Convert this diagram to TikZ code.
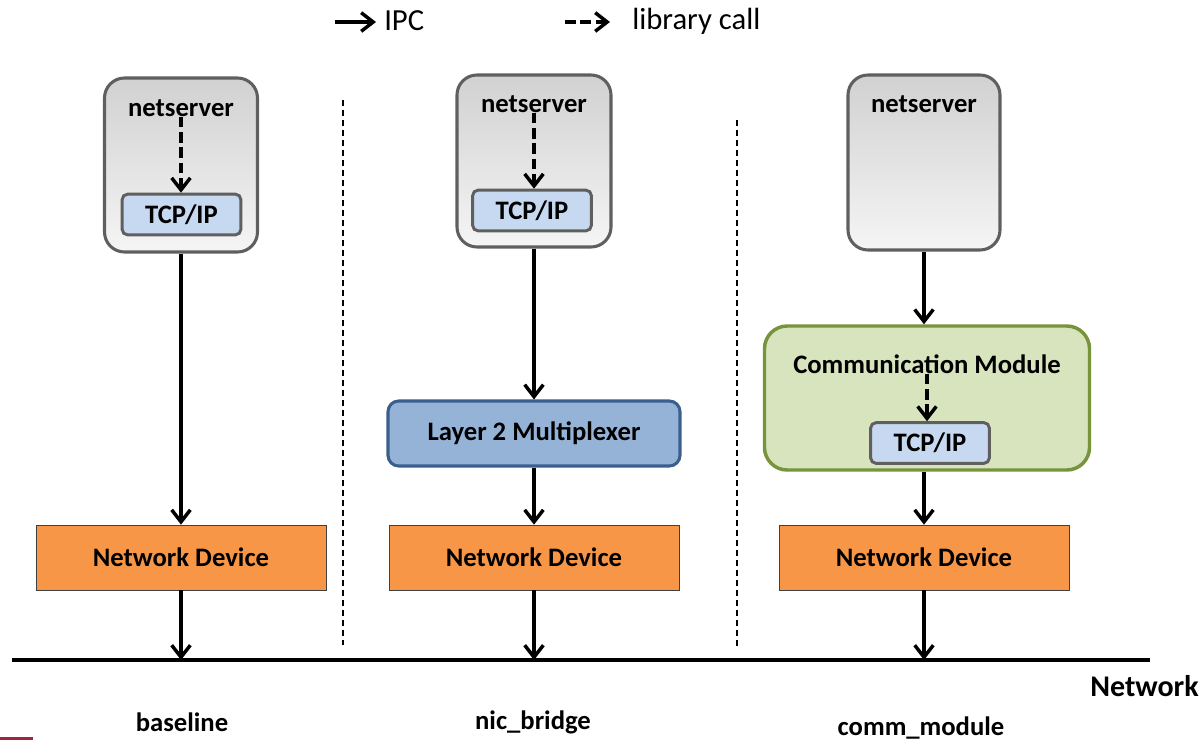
\documentclass[tikz,border=0pt]{standalone}
\usepackage{fontspec}
\setmainfont{Carlito}
\usetikzlibrary{arrows.meta}
\definecolor{srvline}{HTML}{5F5F5F}
\definecolor{tcpfill}{HTML}{C6D9F1}
\definecolor{devfill}{HTML}{F79646}
\definecolor{muxfill}{HTML}{95B3D7}
\definecolor{muxline}{HTML}{3B5F8C}
\definecolor{cmfill}{HTML}{D7E4BD}
\definecolor{cmline}{HTML}{77933C}
\definecolor{markred}{HTML}{A3243B}
\tikzset{
  x=0.75pt, y=-0.75pt,
  txt/.style={font=\fontsize{20}{24}\selectfont\bfseries, inner sep=0pt, anchor=center},
  srv/.style={draw=srvline, line width=2.3pt, rounded corners=15pt,
    top color=black!18, bottom color=black!4, inner sep=0pt},
  tcpbox/.style={draw=srvline, line width=2.2pt, fill=tcpfill, rounded corners=4pt,
    minimum width=89pt, minimum height=30.5pt, inner sep=0pt,
    font=\fontsize{20}{24}\selectfont\bfseries},
  devbox/.style={draw=black!75, line width=0.5pt, fill=devfill,
    minimum width=217.5pt, minimum height=48.75pt, inner sep=0pt,
    font=\fontsize{20}{24}\selectfont\bfseries},
  muxbox/.style={draw=muxline, line width=2.3pt, fill=muxfill, rounded corners=8pt,
    minimum width=219pt, minimum height=48.75pt, inner sep=0pt,
    font=\fontsize{20}{24}\selectfont\bfseries},
  cmbox/.style={draw=cmline, line width=2.6pt, fill=cmfill, rounded corners=17pt,
    minimum width=243.75pt, minimum height=108pt, inner sep=0pt},
  ipc/.style={line width=2.8pt, -{Straight Barb[length=9pt,width=14pt,line width=2.6pt]}},
  lib/.style={ipc, dash pattern=on 8pt off 3.5pt},
  divider/.style={line width=1pt, dash pattern=on 4.5pt off 3pt},
}
\begin{document}
\begin{tikzpicture}
\path[use as bounding box] (0,0) rectangle (1203,740);

% legend
\coordinate (lgA0) at (335,22);
\coordinate (lgA1) at (376,22);
\coordinate (lgB0) at (565,22);
\coordinate (lgB1) at (610,22);
\draw[ipc] (lgA0) -- (lgA1);
\draw[lib] (lgB0) -- (lgB1);
\node[inner sep=0pt, anchor=west, font=\fontsize{23}{27}\selectfont] (lgIPC) at (384,21) {IPC};
\node[inner sep=0pt, anchor=west, font=\fontsize{23}{27}\selectfont] (lgLib) at (632,21) {library call};

% column separators
\coordinate (d1a) at (343,100); \coordinate (d1b) at (343,645);
\coordinate (d2a) at (737,120); \coordinate (d2b) at (737,648);
\draw[divider] (d1a) -- (d1b);
\draw[divider] (d2a) -- (d2b);

% network line
\coordinate (netL) at (12,660);
\coordinate (netR) at (1150,660);
\draw[line width=3pt] (netL) -- (netR);
\node[txt, font=\fontsize{22.5}{27}\selectfont\bfseries, anchor=east] (netlbl) at (1199,686) {Network};

% ---- baseline ----
\node[srv, minimum width=114.75pt, minimum height=130.5pt] (s1) at (181,165) {};
\node[txt] (s1t) at (181,108) {netserver};
\node[tcpbox] (t1) at (181.5,214.5) {TCP/IP};
\node[devbox] (n1) at (181,557.5) {Network Device};
\draw[lib] (s1t.south) -- (s1t.south |- t1.north);
\draw[ipc] (s1.south) -- (s1.south |- n1.north);
\draw[ipc] (n1.south) -- (n1.south |- netL);
\node[txt] (c1) at (182,722) {baseline};

% ---- nic_bridge ----
\node[srv, minimum width=115.5pt, minimum height=129pt] (s2) at (534,161) {};
\node[txt] (s2t) at (534,104) {netserver};
\node[tcpbox] (t2) at (532,210.5) {TCP/IP};
\node[muxbox] (m2) at (534,433.5) {Layer 2 Multiplexer};
\node[devbox] (n2) at (534,557.5) {Network Device};
\draw[lib] (s2t.south) -- (s2t.south |- t2.north);
\draw[ipc] (s2.south) -- (s2.south |- m2.north);
\draw[ipc] (m2.south) -- (m2.south |- n2.north);
\draw[ipc] (n2.south) -- (n2.south |- netL);
\node[txt] (c2) at (533,722) {nic\_bridge};

% ---- comm_module ----
\node[srv, minimum width=114pt, minimum height=131.25pt] (s3) at (924,162.5) {};
\node[txt] (s3t) at (924,104) {netserver};
\node[cmbox] (cm) at (927,398) {};
\node[txt] (cmt) at (927,364) {Communication Module};
\node[tcpbox] (t3) at (930,443) {TCP/IP};
\node[devbox] (n3) at (924,557.5) {Network Device};
\draw[ipc] (s3.south) -- (s3.south |- cm.north);
\draw[lib] (cmt.south) -- (cmt.south |- t3.north);
\draw[ipc] (cm.south -| n3) -- (n3.north);
\draw[ipc] (n3.south) -- (n3.south |- netL);
\node[txt] (c3) at (921,728) {comm\_module};

% small mark in the lower left corner
\fill[markred] (0,737) rectangle (33,740);
\end{tikzpicture}
\end{document}
